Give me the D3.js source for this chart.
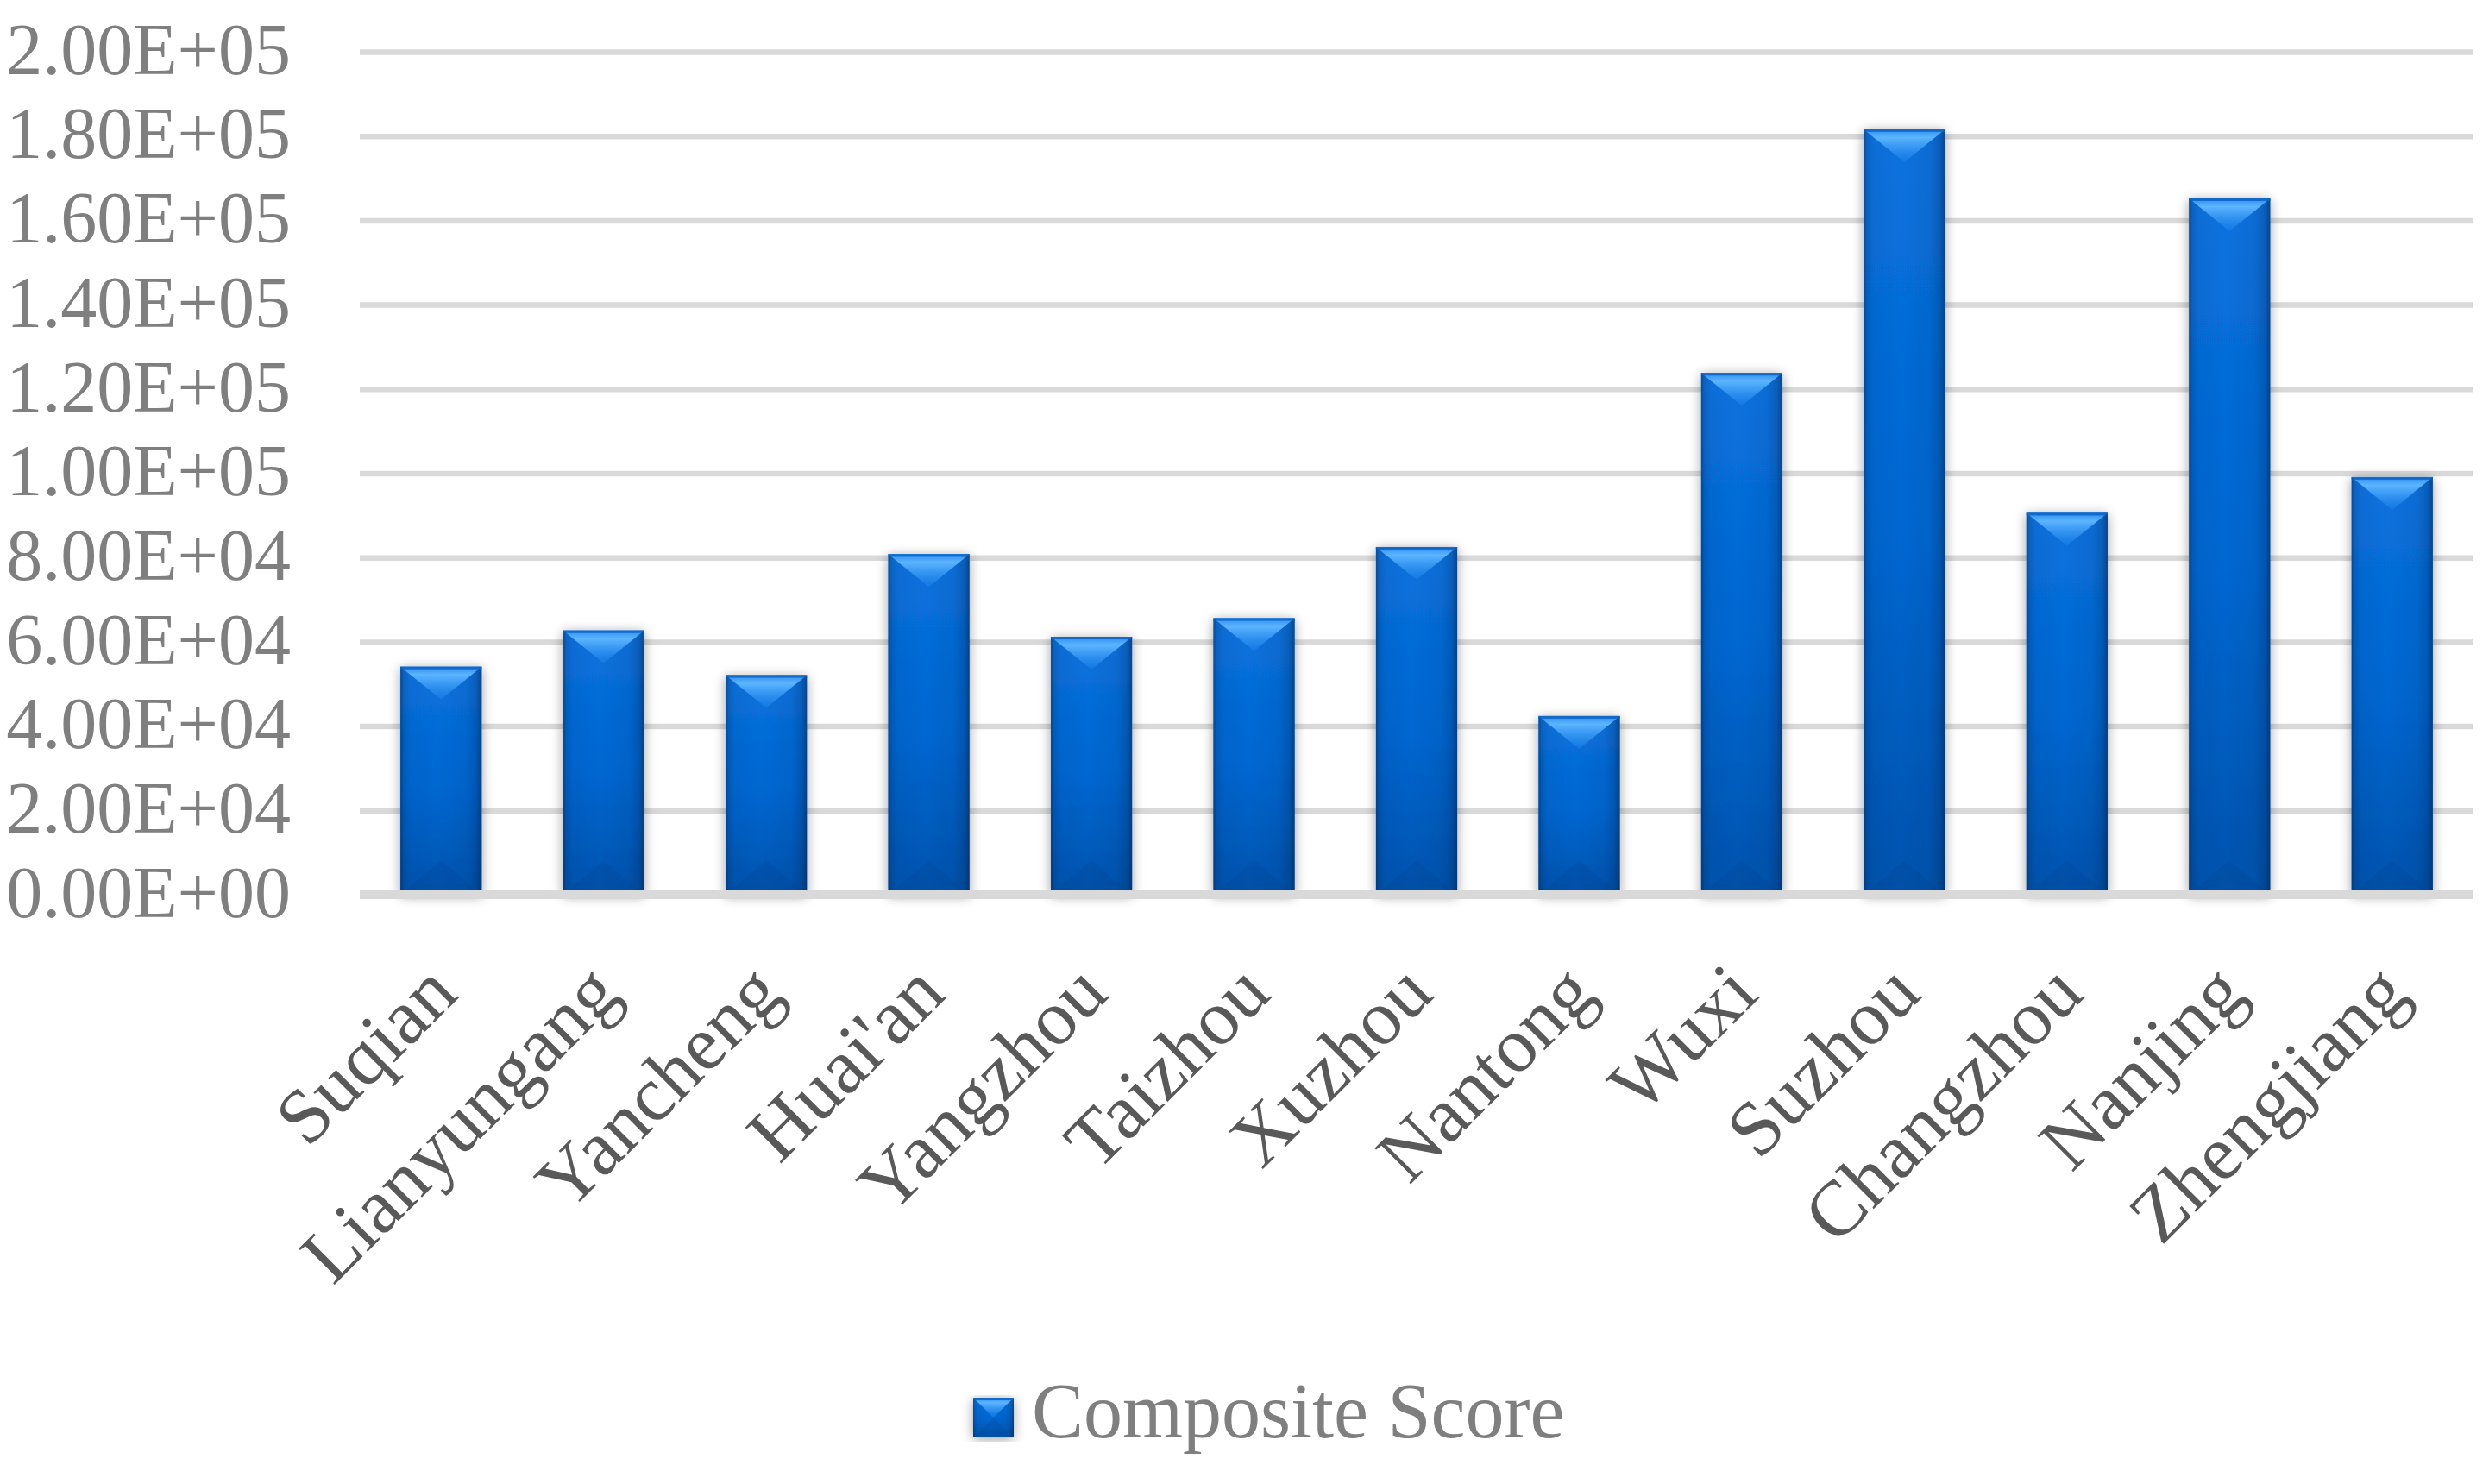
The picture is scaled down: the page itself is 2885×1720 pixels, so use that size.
<!DOCTYPE html>
<html>
<head>
<meta charset="utf-8">
<script src="https://cdn.jsdelivr.net/npm/d3@7"></script>
<style>
  body { margin: 0; background: #fff; }
  svg { display: block; }
</style>
</head>
<body>
<svg width="2885" height="1720"></svg>
<script>
// data
var cities = ["Suqian", "Lianyungang", "Yancheng", "Huai'an", "Yangzhou", "Taizhou", "Xuzhou",
              "Nantong", "Wuxi", "Suzhou", "Changzhou", "Nanjing", "Zhengjiang"];
var scores = [54100, 62700, 52100, 80800, 61200, 65600, 82500,
              42400, 123800, 181600, 90600, 165200, 99100];
var yTicks = [0, 20000, 40000, 60000, 80000, 100000, 120000, 140000, 160000, 180000, 200000];
var seriesName = "Composite Score";

var svg = d3.select("svg"),
    margin = { top: 60, right: 18, bottom: 683, left: 417 },
    width = +svg.attr("width") - margin.left - margin.right,
    height = +svg.attr("height") - margin.top - margin.bottom;

var data = cities.map(function (c, i) { return { city: c, value: scores[i] }; });

var x = d3.scaleBand().domain(cities).range([0, width]).paddingInner(0.5).paddingOuter(0.25);
var y = d3.scaleLinear().domain([0, 200000]).range([height, 0]);

// 2.00E+05 style labels
function sci(v) {
  if (v === 0) return "0.00E+00";
  var e = Math.floor(Math.log10(Math.abs(v)));
  var m = v / Math.pow(10, e);
  return m.toFixed(2) + "E+" + (e < 10 ? "0" + e : e);
}

var defs = svg.append("defs");

// bar body: lighter top, darker bottom
var gv = defs.append("linearGradient").attr("id", "barV").attr("x1", 0).attr("y1", 0).attr("x2", 0).attr("y2", 1);
gv.append("stop").attr("offset", "0%").attr("stop-color", "#0a72de");
gv.append("stop").attr("offset", "55%").attr("stop-color", "#0066d0");
gv.append("stop").attr("offset", "100%").attr("stop-color", "#0053ad");

// darker side edges
var gh = defs.append("linearGradient").attr("id", "barH").attr("x1", 0).attr("y1", 0).attr("x2", 1).attr("y2", 0);
[["0%", 0.45], ["4%", 0.18], ["12%", 0.05], ["45%", 0], ["80%", 0.06], ["93%", 0.22], ["100%", 0.5]]
  .forEach(function (s) {
    gh.append("stop").attr("offset", s[0]).attr("stop-color", "#001a40").attr("stop-opacity", s[1]);
  });

// top bevel highlight
var gt = defs.append("linearGradient").attr("id", "bevelTop").attr("x1", 0).attr("y1", 0).attr("x2", 0).attr("y2", 1);
gt.append("stop").attr("offset", "0%").attr("stop-color", "#2b8cf0");
gt.append("stop").attr("offset", "25%").attr("stop-color", "#5db5ff");
gt.append("stop").attr("offset", "100%").attr("stop-color", "#1c86f0").attr("stop-opacity", 0.4);

// soft shadow round the bars
var f = defs.append("filter").attr("id", "shadow").attr("x", "-50%").attr("y", "-10%").attr("width", "200%").attr("height", "120%");
f.append("feGaussianBlur").attr("in", "SourceAlpha").attr("stdDeviation", 7).attr("result", "b");
f.append("feOffset").attr("in", "b").attr("dx", 0).attr("dy", 2).attr("result", "o");
f.append("feComponentTransfer").attr("in", "o").attr("result", "s")
  .append("feFuncA").attr("type", "linear").attr("slope", 0.38);
var fm = f.append("feMerge");
fm.append("feMergeNode").attr("in", "s");
fm.append("feMergeNode").attr("in", "SourceGraphic");

var g = svg.append("g").attr("transform", "translate(" + margin.left + "," + margin.top + ")");

// gridlines + y labels
var yAxis = g.append("g").attr("class", "axis axis--y")
  .call(d3.axisLeft(y).tickValues(yTicks).tickSize(-width).tickPadding(80).tickFormat(sci));
yAxis.select(".domain").remove();
yAxis.selectAll(".tick line").attr("stroke", "#d9d9d9").attr("stroke-width", 6.5);
yAxis.selectAll(".tick text")
  .attr("fill", "#7f7f7f")
  .style("font-family", "'Liberation Serif', 'Times New Roman', serif")
  .style("font-size", "84px")
  .attr("dy", "0.30em");

// draw one bevelled bar
function drawBar(sel, x0, y0, w, h, topDepth, botDepth) {
  sel.append("rect").attr("x", x0).attr("y", y0).attr("width", w).attr("height", h)
    .attr("fill", "url(#barV)").attr("filter", "url(#shadow)");
  sel.append("rect").attr("x", x0).attr("y", y0).attr("width", w).attr("height", h)
    .attr("fill", "url(#barH)");
  sel.append("path")
    .attr("d", "M" + x0 + "," + y0 + "L" + (x0 + w) + "," + y0 + "L" + (x0 + w / 2) + "," + (y0 + topDepth) + "Z")
    .attr("fill", "url(#bevelTop)");
  sel.append("path")
    .attr("d", "M" + x0 + "," + (y0 + h) + "L" + (x0 + w) + "," + (y0 + h) + "L" + (x0 + w / 2) + "," + (y0 + h - botDepth) + "Z")
    .attr("fill", "#003f8f").attr("opacity", 0.22);
  sel.append("rect").attr("x", x0).attr("y", y0).attr("width", w).attr("height", 3)
    .attr("fill", "#0a5fc0").attr("opacity", 0.8);
}

// bars
g.selectAll(".bar").data(data).enter().append("g").attr("class", "bar")
  .each(function (d) {
    drawBar(d3.select(this), x(d.city), y(d.value), x.bandwidth(), y(0) - y(d.value), 38, 40);
  });

// baseline over bar feet
g.append("line").attr("x1", 0).attr("x2", width).attr("y1", y(0)).attr("y2", y(0))
  .attr("stroke", "#d9d9d9").attr("stroke-width", 10);

// x labels, rotated
var xAxis = g.append("g").attr("class", "axis axis--x").attr("transform", "translate(0," + height + ")")
  .call(d3.axisBottom(x).tickSize(0));
xAxis.select(".domain").remove();
xAxis.selectAll(".tick text")
  .attr("fill", "#595959")
  .style("font-family", "'Liberation Serif', 'Times New Roman', serif")
  .style("font-size", "90px")
  .attr("text-anchor", "end")
  .attr("y", 0).attr("dy", 0)
  .attr("transform", "translate(22,118) rotate(-45)");

// legend
var lg = svg.append("g").attr("class", "legend").attr("transform", "translate(1128,1620)");
drawBar(lg, 0, 0, 47, 46, 23, 23);
lg.append("text").attr("x", 68).attr("y", 46)
  .attr("fill", "#7f7f7f")
  .style("font-family", "'Liberation Serif', 'Times New Roman', serif")
  .style("font-size", "90px")
  .text(seriesName);
</script>
</body>
</html>
